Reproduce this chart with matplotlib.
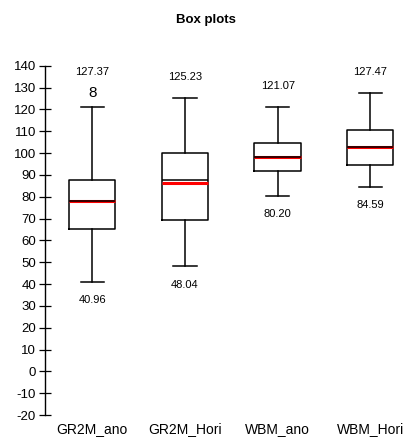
import matplotlib.pyplot as plt
import numpy as np

plt.rcParams['font.family'] = ['Liberation Sans', 'DejaVu Sans']
plt.rcParams['axes.unicode_minus'] = False

# data
labels = ['GR2M_ano', 'GR2M_Hori', 'WBM_ano', 'WBM_Hori']
whislo = [40.96, 48.04, 80.20, 84.59]
q1 = [65.4, 69.4, 91.7, 94.3]
med = [77.9, 87.7, 98.3, 102.8]
q3 = [87.7, 99.8, 104.4, 110.5]
whishi = [121.2, 125.23, 121.07, 127.47]
means = [77.9, 86.2, 98.3, 102.8]
maxs = [127.37, 125.23, 121.07, 127.47]
mins = [40.96, 48.04, 80.20, 84.59]
outlier_label = '8'  # case label shown for the GR2M_ano outlier

stats = []
for i in range(len(labels)):
    stats.append(dict(label=labels[i], whislo=whislo[i], q1=q1[i], med=med[i],
                      q3=q3[i], whishi=whishi[i], fliers=[]))

fig = plt.figure(figsize=(4.07, 4.38), dpi=100)
ax = fig.add_axes([0.1106, 0.0525, 0.872, 0.7975])

pos = np.arange(1, len(labels) + 1)
ax.bxp(stats, positions=pos, widths=0.5, showfliers=False,
       boxprops=dict(color='black', linewidth=1.1),
       whiskerprops=dict(color='black', linewidth=1.1),
       capprops=dict(color='black', linewidth=1.1),
       medianprops=dict(color='black', linewidth=1.1),
       capwidths=0.25)

# red mean lines
for p, m in zip(pos, means):
    ax.plot([p - 0.25, p + 0.25], [m, m], color='red', linewidth=2.2, solid_capstyle='butt')

# outlier shown as case number
ax.text(pos[0], maxs[0], outlier_label, ha='center', va='center', fontsize=11)

for p, hi, lo in zip(pos, maxs, mins):
    ax.annotate(f'{hi:.2f}', (p, hi), xytext=(0, 15), textcoords='offset points',
                ha='center', va='center', fontsize=8)
    ax.annotate(f'{lo:.2f}', (p, lo), xytext=(0, -13), textcoords='offset points',
                ha='center', va='center', fontsize=8)

ax.set_xlim(0.49, 4.32)
ax.set_ylim(-20, 140)
ax.set_yticks(np.arange(-20, 141, 10))
ax.set_xticks(pos)
ax.set_xticklabels(labels)
for s in ['top', 'right', 'bottom']:
    ax.spines[s].set_visible(False)
ax.spines['left'].set_linewidth(1.0)
ax.tick_params(axis='y', direction='inout', length=9, width=0.9, labelsize=9.5, pad=2)
ax.tick_params(axis='x', length=0, labelsize=10, pad=5)

fig.text(0.505, 0.955, 'Box plots', ha='center', va='center', fontsize=9.5, fontweight='bold')

fig.savefig('out.png', dpi=100)
